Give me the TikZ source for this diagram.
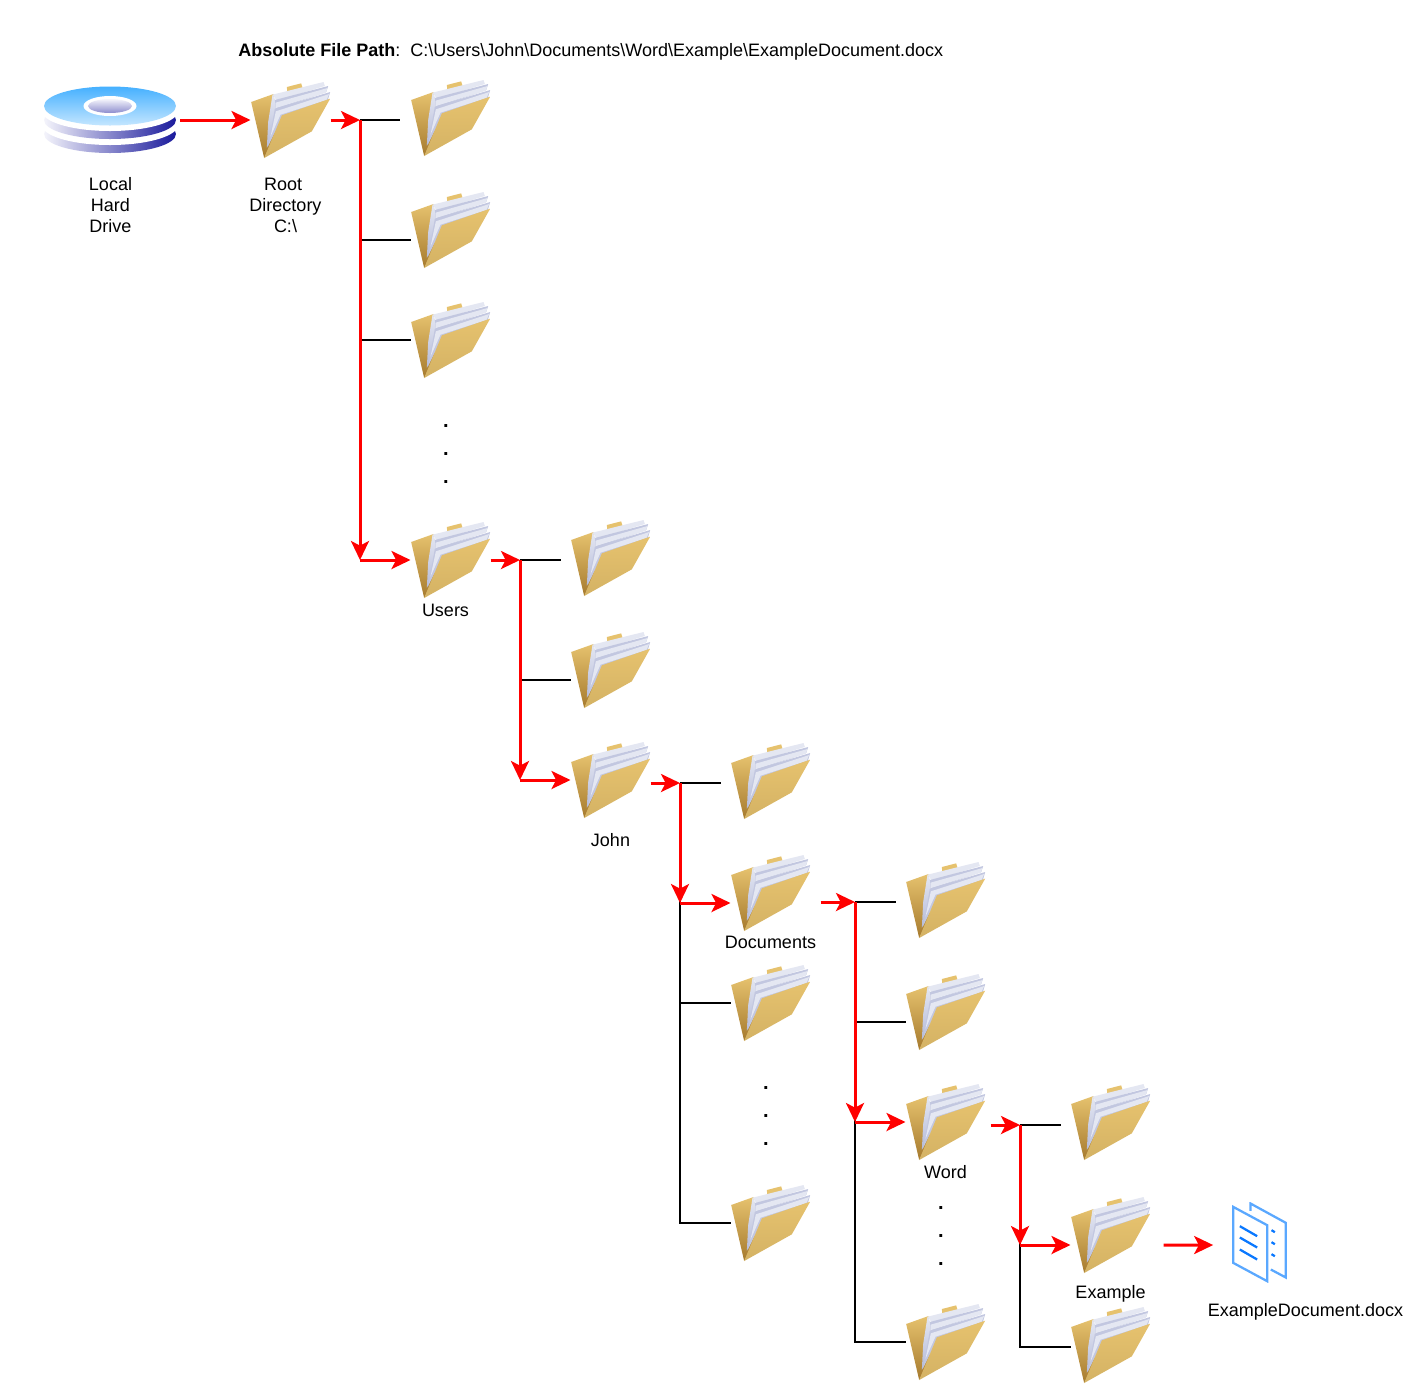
\documentclass[tikz,border=0pt]{standalone}
\usepackage{fontspec}
\setmainfont{Liberation Sans}
\usetikzlibrary{arrows.meta}
\definecolor{arrowred}{HTML}{FF0000}
\definecolor{manila}{HTML}{E6C26E}
\definecolor{manilalow}{HTML}{D4B264}
\definecolor{manilatip}{HTML}{A67A2E}
\definecolor{paper}{HTML}{E4E7F2}
\definecolor{paperedge}{HTML}{B4BAD8}
\definecolor{docpale}{HTML}{5AA8FF}
\definecolor{docdeep}{HTML}{0A78FF}
\definecolor{diskdark}{HTML}{1A1A9C}
\definecolor{diskpale}{HTML}{F4F4FB}
\definecolor{disktop}{HTML}{45B0FF}
\definecolor{disklow}{HTML}{C4E6FF}
\newcommand{\folderart}{%
  \begin{scope}[shift={(path picture bounding box.center)},x=.25pt,y=-.25pt]
    \fill[manila] (-11,-99) -- (32,-110) -- (38,-90) -- (-9,-80) -- cycle;
    \shade[top color=manila,middle color=manilalow,bottom color=manilatip] (-118,-54) -- (-51,-78) -- (-46,46) -- (-79,114) -- cycle;
    \shade[top color=paper,bottom color=paperedge] (-54,-76) -- (-20,-14) -- (-71,84) -- (-67,6) -- cycle;
    \fill[paper] (-54,-76) -- (99,-114) -- (103,-102) -- (-41,-58) -- cycle;
    \fill[paperedge!70!paper] (-47,-60) -- (113,-102) -- (107,-84) -- (-43,-32) -- cycle;
    \fill[paper] (-45,-52) -- (111,-96) -- (106,-82) -- (-43,-36) -- cycle;
    \fill[paperedge!70!paper] (-47,-34) -- (119,-84) -- (111,-56) -- (-26,-12) -- (-67,78) -- cycle;
    \fill[paper] (-44,-26) -- (116,-78) -- (108,-60) -- (-30,-16) -- (-60,50) -- cycle;
    \shade[top color=manila,bottom color=manilalow] (-79,114) -- (-26,-14) -- (119,-64) -- (64,34) -- cycle;
  \end{scope}}
\newcommand{\diskart}{%
  \begin{scope}[shift={(path picture bounding box.center)}]
    \shade[left color=diskpale,right color=diskdark] (0,14) ellipse [x radius=66,y radius=19];
    \fill[white] (0,5) ellipse [x radius=68,y radius=20];
    \shade[left color=diskpale,right color=diskdark] (0,0) ellipse [x radius=66,y radius=19];
    \fill[white] (0,-9) ellipse [x radius=68,y radius=20];
    \shade[top color=disktop,bottom color=disklow] (0,-14) ellipse [x radius=66,y radius=19.5];
    \fill[white] (0,-14) ellipse [x radius=26.5,y radius=10];
    \shade[top color=diskpale,bottom color=diskdark!50!white] (0,-14) ellipse [x radius=22,y radius=7];
  \end{scope}}
\newcommand{\docart}{%
  \begin{scope}[shift={(path picture bounding box.center)},x=.25pt,y=-.25pt]
    \draw[docpale,line width=1.7pt] (-27,-95) -- (-27,-117) -- (79,-59) -- (79,105) -- (34,81);
    \draw[docpale,line width=1.7pt,line join=miter] (-79,-107) -- (23,-52) -- (23,116) -- (-79,61) -- cycle;
    \draw[docdeep,line width=1.7pt] (-59,-49) -- (-7,-19);
    \draw[docdeep,line width=1.7pt] (-59,-15) -- (-7,15);
    \draw[docdeep,line width=1.7pt] (-59,21) -- (-7,51);
    \draw[docdeep,line width=1.7pt] (36,-37) -- (46,-31);
    \draw[docdeep,line width=1.7pt] (36,-1) -- (46,5);
    \draw[docdeep,line width=1.7pt] (36,35) -- (46,41);
  \end{scope}}
\tikzset{
  folder/.style={inner sep=0pt,outer sep=0pt,minimum width=60pt,minimum height=57pt,path picture={\folderart}},
  disk/.style={inner sep=0pt,outer sep=0pt,minimum width=105pt,minimum height=51pt,path picture={\diskart}},
  docfile/.style={inner sep=0pt,outer sep=0pt,minimum width=41pt,minimum height=60pt,path picture={\docart}},
  caption/.style={align=center,inner sep=0pt},
  ellipsis/.style={align=center,inner sep=0pt,font=\fontsize{15}{21}\selectfont\bfseries},
  branch/.style={draw=black,line width=1.1pt},
  redpath/.style={draw=arrowred,line width=2.25pt,-{Stealth[length=14.25pt,width=13.5pt,inset=3.5pt]}}
}
\begin{document}
\begin{tikzpicture}[x=.75pt,y=-.75pt,font=\fontsize{13.5}{15.75}\selectfont]
    \useasboundingbox (0,0) rectangle (1411,1386);
    \node[anchor=west,inner sep=0pt] (title) at (238,52) {\textbf{Absolute File Path}:\ \ C:\textbackslash Users\textbackslash John\textbackslash Documents\textbackslash Word\textbackslash Example\textbackslash ExampleDocument.docx};

    \node[disk] (drive) at (110,120) {};
    \node[folder] (root) at (290.5,120) {};
    \node[folder] (rootA) at (450.5,118) {};
    \node[folder] (rootB) at (450.5,230) {};
    \node[folder] (rootC) at (450.5,340) {};
    \node[folder] (users) at (450.5,560) {};
    \node[folder] (usersA) at (610.5,558) {};
    \node[folder] (usersB) at (610.5,670) {};
    \node[folder] (john) at (610.5,780) {};
    \node[folder] (johnA) at (770.5,781) {};
    \node[folder] (documents) at (770.5,893) {};
    \node[folder] (johnC) at (770.5,1003) {};
    \node[folder] (johnD) at (770.5,1223) {};
    \node[folder] (documentsA) at (945.5,900) {};
    \node[folder] (documentsB) at (945.5,1012) {};
    \node[folder] (word) at (945.5,1122) {};
    \node[folder] (documentsD) at (945.5,1342) {};
    \node[folder] (wordA) at (1110.5,1122) {};
    \node[folder] (example) at (1110.5,1235) {};
    \node[folder] (wordC) at (1110.5,1345) {};
    \node[docfile] (docx) at (1259.5,1242.5) {};

    \node[caption] (driveText) at (110.5,205) {Local\\Hard\\Drive};
    \node[caption] (rootText) at (285.5,205) {Root\hspace*{3.5pt}\\Directory\\C:\textbackslash};
    \node[caption] (usersText) at (445.5,610) {Users};
    \node[caption] (johnText) at (610.5,840) {John};
    \node[caption] (documentsText) at (770.5,942) {Documents};
    \node[caption] (wordText) at (945.5,1172) {Word};
    \node[caption] (exampleText) at (1110.5,1294) {Example};
    \node[caption] (docxText) at (1305.5,1312) {ExampleDocument.docx};

    \node[ellipsis] (rootDots) at (446,454) {.\\.\\.};
    \node[ellipsis] (johnDots) at (766,1116) {.\\.\\.};
    \node[ellipsis] (documentsDots) at (941,1236) {.\\.\\.};

    \coordinate (rootJoin) at (360,120);
    \coordinate (usersJoin) at (520,560);
    \coordinate (johnJoin) at (680,783);
    \coordinate (documentsJoin) at (855,902);
    \coordinate (wordJoin) at (1020,1125);

    \draw[branch,shorten >=8pt] (rootJoin) -- (rootA.west |- rootJoin);
    \draw[branch] (rootJoin) |- ([yshift=-7.5pt]rootB.west);
    \draw[branch] (rootJoin) |- (rootC.west);
    \draw[branch,shorten >=7.5pt] (usersJoin) -- (usersA.west |- usersJoin);
    \draw[branch] (usersJoin) |- ([yshift=-7.5pt]usersB.west);
    \draw[branch,shorten >=7.5pt] (johnJoin) -- (johnA.west |- johnJoin);
    \draw[branch] (johnJoin) |- (johnC.west);
    \draw[branch] (johnJoin) |- (johnD.west);
    \draw[branch,shorten >=7.5pt] (documentsJoin) -- (documentsA.west |- documentsJoin);
    \draw[branch] (documentsJoin) |- ([yshift=-7.5pt]documentsB.west);
    \draw[branch] (documentsJoin) |- (documentsD.west);
    \draw[branch,shorten >=7.5pt] (wordJoin) -- (wordA.west |- wordJoin);
    \draw[branch] (wordJoin) |- ([yshift=-1.5pt]wordC.west);

    \draw[redpath] (drive.east) -- (root.west);
    \draw[redpath] (root.east) -- (rootJoin);
    \draw[redpath] (rootJoin) -- (rootJoin |- users.west);
    \draw[redpath] (rootJoin |- users.west) -- (users.west);
    \draw[redpath] (users.east) -- (usersJoin);
    \draw[redpath] (usersJoin) -- (usersJoin |- john.west);
    \draw[redpath] (usersJoin |- john.west) -- (john.west);
    \draw[redpath] (john.east |- johnJoin) -- (johnJoin);
    \draw[redpath] (johnJoin) -- (johnJoin |- 0,903);
    \draw[redpath] (johnJoin |- 0,903) -- ([yshift=-7.5pt]documents.west);
    \draw[redpath,shorten <=7.5pt] (documents.east |- documentsJoin) -- (documentsJoin);
    \draw[redpath] (documentsJoin) -- (documentsJoin |- word.west);
    \draw[redpath] (documentsJoin |- word.west) -- (word.west);
    \draw[redpath,shorten <=3.75pt] (word.east |- wordJoin) -- (wordJoin);
    \draw[redpath] (wordJoin) -- (wordJoin |- 0,1245);
    \draw[redpath] (wordJoin |- 0,1245) -- ([yshift=-7.5pt]example.west);
    \draw[redpath,shorten <=9.75pt,shorten >=14.25pt] ([yshift=-7.5pt]example.east) -- ([yshift=-1.9pt]docx.west);
  \end{tikzpicture}
\end{document}
